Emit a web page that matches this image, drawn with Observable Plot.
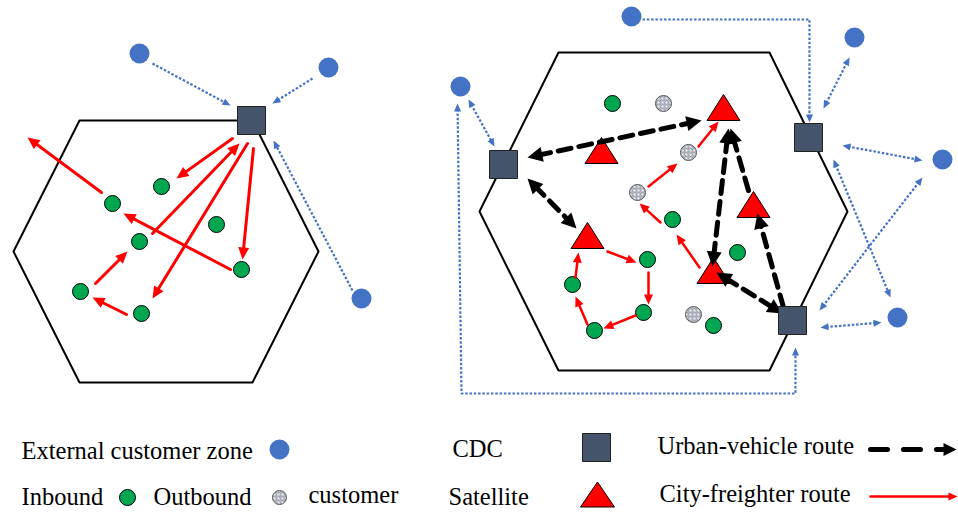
<!DOCTYPE html>
<html><head><meta charset="utf-8">
<script src="https://cdn.jsdelivr.net/npm/d3@7"></script>
<script src="https://cdn.jsdelivr.net/npm/@observablehq/plot@0.6"></script>
<style>body{margin:0;background:#fff}</style>
</head><body><div id="chart"></div>
<script>
// ---------- data (diagram coordinates) ----------
const hexagons = [
  [[79,120],[252,120],[318,251],[252,382],[79,382],[13,251]],
  [[558,52],[769,52],[847,211],[769,370],[558,370],[479,211]]
];
const zones = [[139,53],[328,67],[361,298],[631,16],[854,37],[460,86],[942,159],[897,317]];
const cdcs = [[251,120],[503,164],[808,137],[792,320]];
const satellites = [[723,107],[601,150],[753,204],[587,235],[713,270]];
const inbound = [[161,186],[112,203],[216,224],[139,241],[241,269],[80,291],[141,313],
  [612,103],[672,219],[647,259],[737,252],[572,284],[643,312],[594,330],[713,325]];
const outbound = [[663,103],[688,152],[637,192],[693,314]];
const freighterLeft = [
  [[232,138],[176,178]], [[152,233],[239,143]], [[247,143],[152,298]], [[253,148],[242,259]],
  [[230,269],[123,213]], [[101,192],[27,137]], [[126,314],[92,297]], [[95,283],[127,251]]
];
const freighterRight = [
  [[607,251],[636,262]], [[648,272],[648,304]], [[635,315],[603,328]], [[587,324],[575,296]],
  [[575,277],[578,252]], [[699,267],[676,234]], [[660,222],[639,203]], [[648,186],[677,163]],
  [[698,146],[718,121]]
];
const urbanRoutes = [
  {pts:[[527,157],[701,120]], heads:"both"},
  {pts:[[527,178],[576,228]], heads:"both"},
  {pts:[[712,266],[728,128]], heads:"both"},
  {pts:[[716,272],[782,313]], heads:"both"},
  {pts:[[783,307],[757,213]], heads:"end"},
  {pts:[[748,190],[730,128]], heads:"end"}
];
const zoneLinks = [
  {pts:[[152,63],[230,105]], heads:"end"},
  {pts:[[312,78],[272,103]], heads:"end"},
  {pts:[[352,290],[273,140]], heads:"end"},
  {pts:[[642,19],[809,19],[809,122]], heads:"end"},
  {pts:[[849,57],[823,108]], heads:"both"},
  {pts:[[468,99],[494,146]], heads:"both"},
  {pts:[[842,145],[922,160]], heads:"both"},
  {pts:[[833,159],[890,297]], heads:"both"},
  {pts:[[922,177],[819,310]], heads:"both"},
  {pts:[[820,327],[881,322]], heads:"both"},
  {pts:[[457,103],[461,393],[795,393],[795,347]], heads:"both"}
];
const legendLabels = ["External customer zone","Inbound","Outbound","customer","CDC","Satellite","Urban-vehicle route","City-freighter route"];

// ---------- helpers ----------
function head(tip, from){
  const dx = tip[0]-from[0], dy = tip[1]-from[1];
  return {x: tip[0], y: tip[1], angle: Math.atan2(dx, -dy)*180/Math.PI};
}
function shorten(p, q, d){
  const dx=q[0]-p[0], dy=q[1]-p[1], L=Math.hypot(dx,dy);
  return [q[0]-dx/L*d, q[1]-dy/L*d];
}
function build(routes, headLen){
  const lines=[], heads=[];
  routes.forEach((r,i)=>{
    const pts = r.pts.map(p=>p.slice()); const n = pts.length;
    const hs = r.heads || "end";
    if (hs==="end"||hs==="both"){ heads.push(head(r.pts[n-1], r.pts[n-2])); pts[n-1]=shorten(r.pts[n-2], r.pts[n-1], headLen*0.7); }
    if (hs==="both"){ heads.push(head(r.pts[0], r.pts[1])); pts[0]=shorten(r.pts[1], r.pts[0], headLen*0.7); }
    pts.forEach(p=>lines.push({id:i, x:p[0], y:p[1]}));
  });
  return {lines, heads};
}
const arrowSym = (len, w) => ({draw(ctx){ ctx.moveTo(0,0); ctx.lineTo(-w/2,len); ctx.lineTo(w/2,len); ctx.closePath(); }});
const triSym = (w, h) => ({draw(ctx){ ctx.moveTo(0,-h/2); ctx.lineTo(w/2,h/2); ctx.lineTo(-w/2,h/2); ctx.closePath(); }});
const sqSym = (s) => ({draw(ctx){ ctx.rect(-s/2,-s/2,s,s); }});

const hexRows = hexagons.flatMap((h,i)=>[...h, h[0]].map(p=>({id:i,x:p[0],y:p[1]})));
const blue = build(zoneLinks, 8);
const redL = build(freighterLeft.map(pts=>({pts})), 12);
const redR = build(freighterRight.map(pts=>({pts})), 10);
const black = build(urbanRoutes, 15);

const BLUE="#4472C4", GREEN="#00A650", CDC="#44546A", RED="#FF0000";
const font = {fontFamily:"Liberation Serif, Times New Roman, serif", fontSize:24.5, textAnchor:"start", fill:"#000"};

const legendText = [
  {t:legendLabels[0], x:21, y:451}, {t:legendLabels[1], x:21, y:497}, {t:legendLabels[2], x:153, y:497},
  {t:legendLabels[3], x:308, y:495}, {t:legendLabels[4], x:452, y:449}, {t:legendLabels[5], x:448, y:497},
  {t:legendText6 = legendLabels[6], x:657, y:446}, {t:legendLabels[7], x:659, y:494}
];

const plot = Plot.plot({
  width: 958, height: 512, margin: 0,
  x: {domain:[0,958], range:[0,958], axis:null},
  y: {domain:[0,512], range:[0,512], axis:null},
  style: {background:"#fff", overflow:"visible"},
  marks: [
    Plot.line(hexRows, {x:"x", y:"y", z:"id", stroke:"#000", strokeWidth:2, strokeLinejoin:"miter"}),
    Plot.dot(zones, {x:d=>d[0], y:d=>d[1], r:10, fill:BLUE, stroke:"none"}),
    Plot.dot(inbound, {x:d=>d[0], y:d=>d[1], r:8, fill:GREEN, stroke:"#000", strokeWidth:1}),
    Plot.dot(outbound, {x:d=>d[0], y:d=>d[1], r:8, fill:"url(#speckle)", stroke:"#555", strokeWidth:1}),
    Plot.dot(satellites, {x:d=>d[0], y:d=>d[1], symbol:triSym(33,26), fill:RED, stroke:"#000", strokeWidth:1}),
    Plot.line(blue.lines, {x:"x", y:"y", z:"id", stroke:BLUE, strokeWidth:2.2, strokeDasharray:"2.5 1.8", strokeLinecap:"butt"}),
    Plot.dot(blue.heads, {x:"x", y:"y", rotate:"angle", symbol:arrowSym(8,7), fill:BLUE, stroke:"none"}),
    Plot.line(redL.lines, {x:"x", y:"y", z:"id", stroke:RED, strokeWidth:3}),
    Plot.dot(redL.heads, {x:"x", y:"y", rotate:"angle", symbol:arrowSym(12,11), fill:RED, stroke:"none"}),
    Plot.line(redR.lines, {x:"x", y:"y", z:"id", stroke:RED, strokeWidth:2.5}),
    Plot.dot(redR.heads, {x:"x", y:"y", rotate:"angle", symbol:arrowSym(10,9), fill:RED, stroke:"none"}),
    Plot.line(black.lines, {x:"x", y:"y", z:"id", stroke:"#000", strokeWidth:5, strokeDasharray:"13 8"}),
    Plot.dot(black.heads, {x:"x", y:"y", rotate:"angle", symbol:arrowSym(15,15), fill:"#000", stroke:"none"}),
    Plot.dot(cdcs, {x:d=>d[0], y:d=>d[1], symbol:sqSym(28), fill:CDC, stroke:"#222", strokeWidth:1}),
    // legend
    Plot.text(legendText, {x:"x", y:"y", text:"t", ...font, lineAnchor:"middle"}),
    Plot.dot([[279,449]], {x:d=>d[0], y:d=>d[1], r:10, fill:BLUE, stroke:"none"}),
    Plot.dot([[127,497]], {x:d=>d[0], y:d=>d[1], r:8, fill:GREEN, stroke:"#000", strokeWidth:1}),
    Plot.dot([[279,497]], {x:d=>d[0], y:d=>d[1], r:7, fill:"url(#speckle)", stroke:"#555", strokeWidth:1}),
    Plot.dot([[596,447]], {x:d=>d[0], y:d=>d[1], symbol:sqSym(28), fill:CDC, stroke:"#222", strokeWidth:1}),
    Plot.dot([[597,494]], {x:d=>d[0], y:d=>d[1], symbol:triSym(34,25), fill:RED, stroke:"#000", strokeWidth:1}),
    Plot.line([[870,449],[946,449]], {x:d=>d[0], y:d=>d[1], stroke:"#000", strokeWidth:5, strokeDasharray:"17 16"}),
    Plot.dot([{x:956,y:449,angle:90}], {x:"x", y:"y", rotate:"angle", symbol:arrowSym(13,13), fill:"#000"}),
    Plot.line([[870,496],[950,496]], {x:d=>d[0], y:d=>d[1], stroke:RED, strokeWidth:2.5}),
    Plot.dot([{x:957,y:496,angle:90}], {x:"x", y:"y", rotate:"angle", symbol:arrowSym(9,8), fill:RED})
  ]
});

// speckle pattern for outbound customers
const svg = d3.select(plot);
const defs = svg.insert("defs", ":first-child");
const pat = defs.append("pattern").attr("id","speckle").attr("patternUnits","userSpaceOnUse").attr("width",4).attr("height",4);
pat.append("rect").attr("width",4).attr("height",4).attr("fill","#9aa0ab");
pat.append("circle").attr("cx",2).attr("cy",2).attr("r",1.3).attr("fill","#eef0f3");
pat.append("circle").attr("cx",0).attr("cy",0).attr("r",0.8).attr("fill","#eef0f3");
pat.append("circle").attr("cx",4).attr("cy",4).attr("r",0.8).attr("fill","#eef0f3");
document.getElementById("chart").appendChild(plot);
</script>
</body></html>
